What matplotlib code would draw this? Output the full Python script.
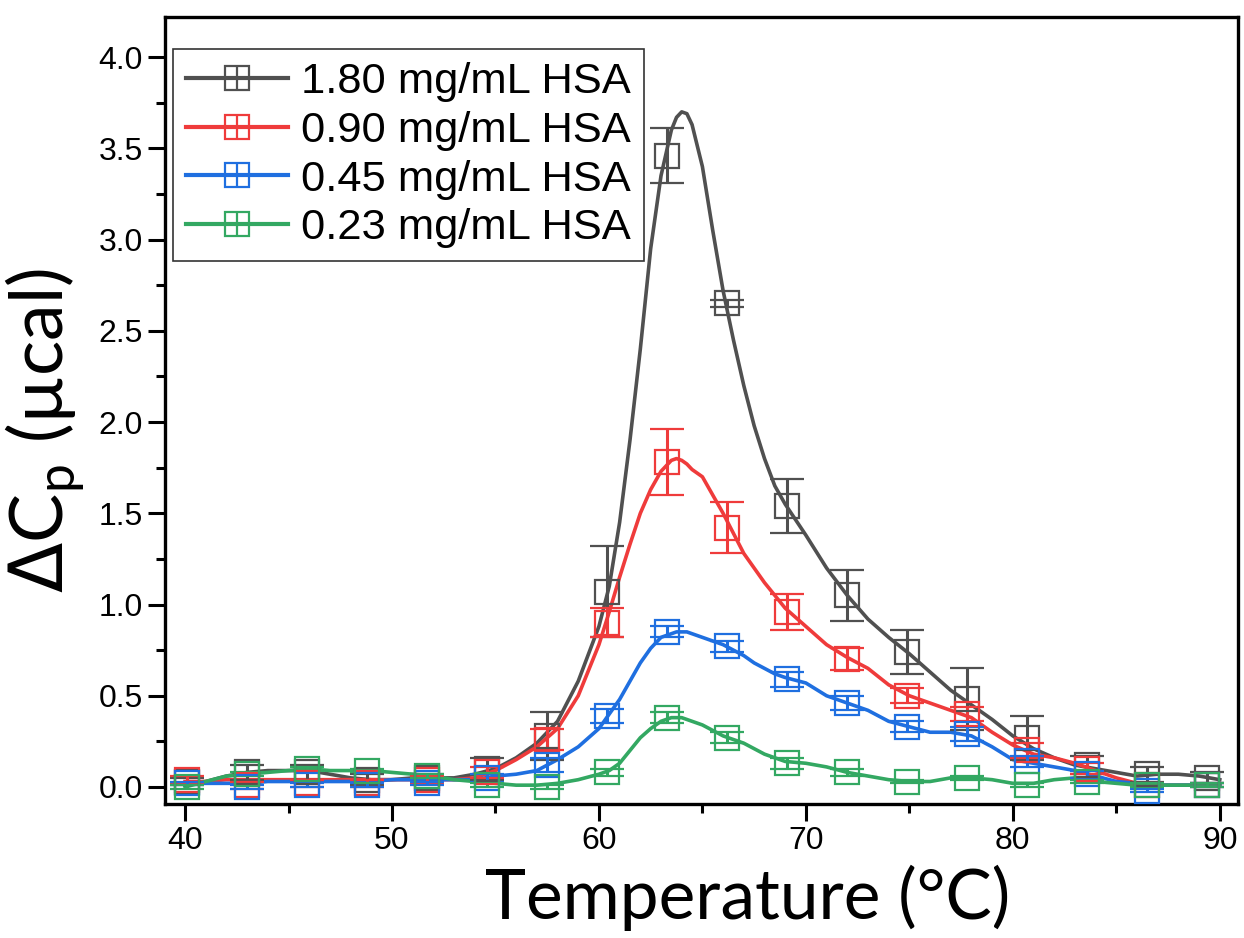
import numpy as np
import matplotlib.pyplot as plt
from matplotlib.lines import Line2D
from matplotlib.legend_handler import HandlerTuple

# ===== Data =====
labels = ["1.80 mg/mL HSA", "0.90 mg/mL HSA", "0.45 mg/mL HSA", "0.23 mg/mL HSA"]
colors = ["#505050", "#ef3b3b", "#1f6fe0", "#33a862"]

# marker / error bar positions (deg C)
t_marks = [40.1, 43.0, 45.9, 48.8, 51.7, 54.6, 57.5, 60.4, 63.3,
           66.2, 69.1, 72.0, 74.9, 77.8, 80.7, 83.6, 86.5, 89.4]

# curve temperatures
t_line = [40, 41, 42, 43, 44, 45, 46, 47, 48, 49, 50, 51, 52, 53, 54, 55,
          56, 57, 58, 59, 60, 60.5, 61, 61.5, 62, 62.5, 63, 63.5, 63.75, 64,
          64.25, 64.5, 65, 65.5, 66, 66.5, 67, 67.5, 68, 68.5, 69, 70, 71,
          72, 73, 74, 75, 76, 77, 78, 79, 80, 81, 82, 83, 84, 85, 86, 87,
          88, 89, 90]

cp_180 = [0.02, 0.03, 0.06, 0.08, 0.09, 0.09, 0.09, 0.07, 0.05, 0.04, 0.04,
          0.05, 0.05, 0.05, 0.07, 0.10, 0.16, 0.24, 0.36, 0.58, 0.88, 1.10,
          1.45, 1.90, 2.40, 2.95, 3.35, 3.60, 3.67, 3.70, 3.69, 3.63, 3.40,
          3.05, 2.72, 2.45, 2.20, 1.98, 1.80, 1.65, 1.55, 1.38, 1.20, 1.05,
          0.92, 0.82, 0.73, 0.63, 0.53, 0.45, 0.37, 0.28, 0.21, 0.16, 0.12,
          0.10, 0.08, 0.06, 0.07, 0.07, 0.06, 0.04]
cp_090 = [0.03, 0.03, 0.04, 0.04, 0.04, 0.04, 0.04, 0.04, 0.04, 0.04, 0.04,
          0.04, 0.04, 0.04, 0.05, 0.09, 0.15, 0.22, 0.32, 0.50, 0.78, 0.96,
          1.15, 1.33, 1.50, 1.63, 1.73, 1.79, 1.80, 1.79, 1.77, 1.74, 1.70,
          1.60, 1.50, 1.39, 1.28, 1.20, 1.12, 1.05, 0.98, 0.88, 0.78, 0.71,
          0.65, 0.56, 0.50, 0.46, 0.42, 0.38, 0.30, 0.23, 0.18, 0.16, 0.13,
          0.09, 0.05, 0.02, 0.01, 0.01, 0.01, 0.01]
cp_045 = [0.02, 0.02, 0.02, 0.02, 0.03, 0.03, 0.03, 0.03, 0.03, 0.03, 0.04,
          0.04, 0.04, 0.04, 0.04, 0.06, 0.07, 0.09, 0.15, 0.22, 0.32, 0.40,
          0.48, 0.58, 0.68, 0.76, 0.82, 0.84, 0.85, 0.85, 0.85, 0.84, 0.82,
          0.80, 0.78, 0.75, 0.72, 0.68, 0.65, 0.62, 0.60, 0.57, 0.50, 0.46,
          0.42, 0.36, 0.33, 0.30, 0.30, 0.28, 0.22, 0.15, 0.13, 0.11, 0.09,
          0.06, 0.03, 0.02, 0.01, 0.01, 0.01, 0.01]
cp_023 = [0.00, 0.03, 0.06, 0.07, 0.08, 0.09, 0.10, 0.09, 0.09, 0.09, 0.08,
          0.07, 0.06, 0.04, 0.03, 0.02, 0.01, 0.01, 0.02, 0.04, 0.07, 0.09,
          0.13, 0.20, 0.27, 0.32, 0.36, 0.38, 0.38, 0.38, 0.37, 0.36, 0.34,
          0.31, 0.28, 0.26, 0.24, 0.21, 0.18, 0.16, 0.14, 0.13, 0.11, 0.08,
          0.06, 0.04, 0.03, 0.03, 0.05, 0.05, 0.04, 0.02, 0.02, 0.04, 0.05,
          0.03, 0.02, 0.01, 0.01, 0.01, 0.01, 0.01]

mk_180 = [0.03, 0.08, 0.08, 0.04, 0.05, 0.10, 0.28, 1.07, 3.46, 2.65, 1.54,
          1.05, 0.74, 0.48, 0.27, 0.12, 0.07, 0.05]
er_180 = [0.02, 0.04, 0.04, 0.03, 0.02, 0.06, 0.13, 0.25, 0.15, 0.02, 0.15,
          0.14, 0.12, 0.17, 0.12, 0.05, 0.04, 0.03]
mk_090 = [0.04, 0.01, 0.02, 0.02, 0.04, 0.08, 0.26, 0.90, 1.78, 1.42, 0.96,
          0.70, 0.50, 0.40, 0.20, 0.10, 0.01, 0.01]
er_090 = [0.02, 0.02, 0.02, 0.02, 0.02, 0.03, 0.06, 0.08, 0.18, 0.14, 0.10,
          0.06, 0.04, 0.04, 0.04, 0.03, 0.01, 0.01]
mk_045 = [0.02, 0.00, 0.01, 0.01, 0.02, 0.05, 0.12, 0.39, 0.85, 0.77, 0.59,
          0.46, 0.33, 0.29, 0.14, 0.07, -0.02, 0.01]
er_045 = [0.01, 0.01, 0.01, 0.01, 0.01, 0.02, 0.04, 0.04, 0.03, 0.03, 0.04,
          0.04, 0.03, 0.04, 0.03, 0.02, 0.01, 0.01]
mk_023 = [0.00, 0.07, 0.10, 0.09, 0.06, 0.01, 0.00, 0.08, 0.38, 0.27, 0.13,
          0.08, 0.03, 0.05, 0.01, 0.03, 0.01, 0.01]
er_023 = [0.01, 0.01, 0.01, 0.01, 0.01, 0.01, 0.01, 0.02, 0.03, 0.03, 0.03,
          0.02, 0.01, 0.01, 0.01, 0.01, 0.01, 0.01]

curves = [cp_180, cp_090, cp_045, cp_023]
marks = [mk_180, mk_090, mk_045, mk_023]
errs = [er_180, er_090, er_045, er_023]

# ===== Plot =====
plt.rcParams['font.family'] = ['Liberation Sans', 'DejaVu Sans']

fig = plt.figure(figsize=(12.44, 9.38), dpi=100)
ax = fig.add_axes([0.1326, 0.1429, 0.8624, 0.8390])

handles = []
for cp, mk, er, col, lab in zip(curves, marks, errs, colors, labels):
    ax.plot(t_line, cp, color=col, lw=2.6, zorder=2)
    ax.errorbar(t_marks, mk, yerr=er, fmt='s', ms=17, mfc='none', mec=col,
                mew=1.6, ecolor=col, elinewidth=2.2, capsize=12, capthick=2.2,
                zorder=3)
    h1 = Line2D([], [], color=col, lw=3, marker='s', ms=17, mfc='none',
                mec=col, mew=1.6)
    h2 = Line2D([], [], ls='none', marker='|', ms=17, mec=col, mew=1.6)
    handles.append((h1, h2))

ax.set_xlim(39.03, 90.87)
ax.set_ylim(-0.093, 4.22)
ax.set_xticks([40, 50, 60, 70, 80, 90])
ax.set_xticks([45, 55, 65, 75, 85], minor=True)
ax.set_yticks(np.arange(0, 4.01, 0.5))
ax.set_yticks(np.arange(0.25, 4.0, 0.5), minor=True)
ax.yaxis.set_major_formatter(plt.FormatStrFormatter('%.1f'))

ax.tick_params(which='major', direction='out', length=12, width=2.2,
               labelsize=23, pad=4)
ax.tick_params(which='minor', direction='out', length=6.5, width=2.2)
for s in ax.spines.values():
    s.set_linewidth(2.4)

ax.set_xlabel('Temperature (°C)', family=['Lato', 'DejaVu Sans'],
              fontsize=50)
ax.set_ylabel(r'$\Delta$C$_\mathregular{p}$ (µcal)',
              family=['Lato', 'DejaVu Sans'], fontsize=53)
ax.xaxis.set_label_coords(0.543, -0.077)
ax.yaxis.set_label_coords(-0.073, 0.475)

leg = ax.legend(handles, labels,
                handler_map={tuple: HandlerTuple(ndivide=1, pad=0)},
                loc='upper left', bbox_to_anchor=(0.0075, 0.959),
                fontsize=31.3, frameon=True, fancybox=False, edgecolor='black',
                handlelength=2.35, handletextpad=0.3, labelspacing=0.2,
                borderpad=0.3, borderaxespad=0)
leg.get_frame().set_linewidth(1.2)

fig.savefig('out.png', dpi=100)
